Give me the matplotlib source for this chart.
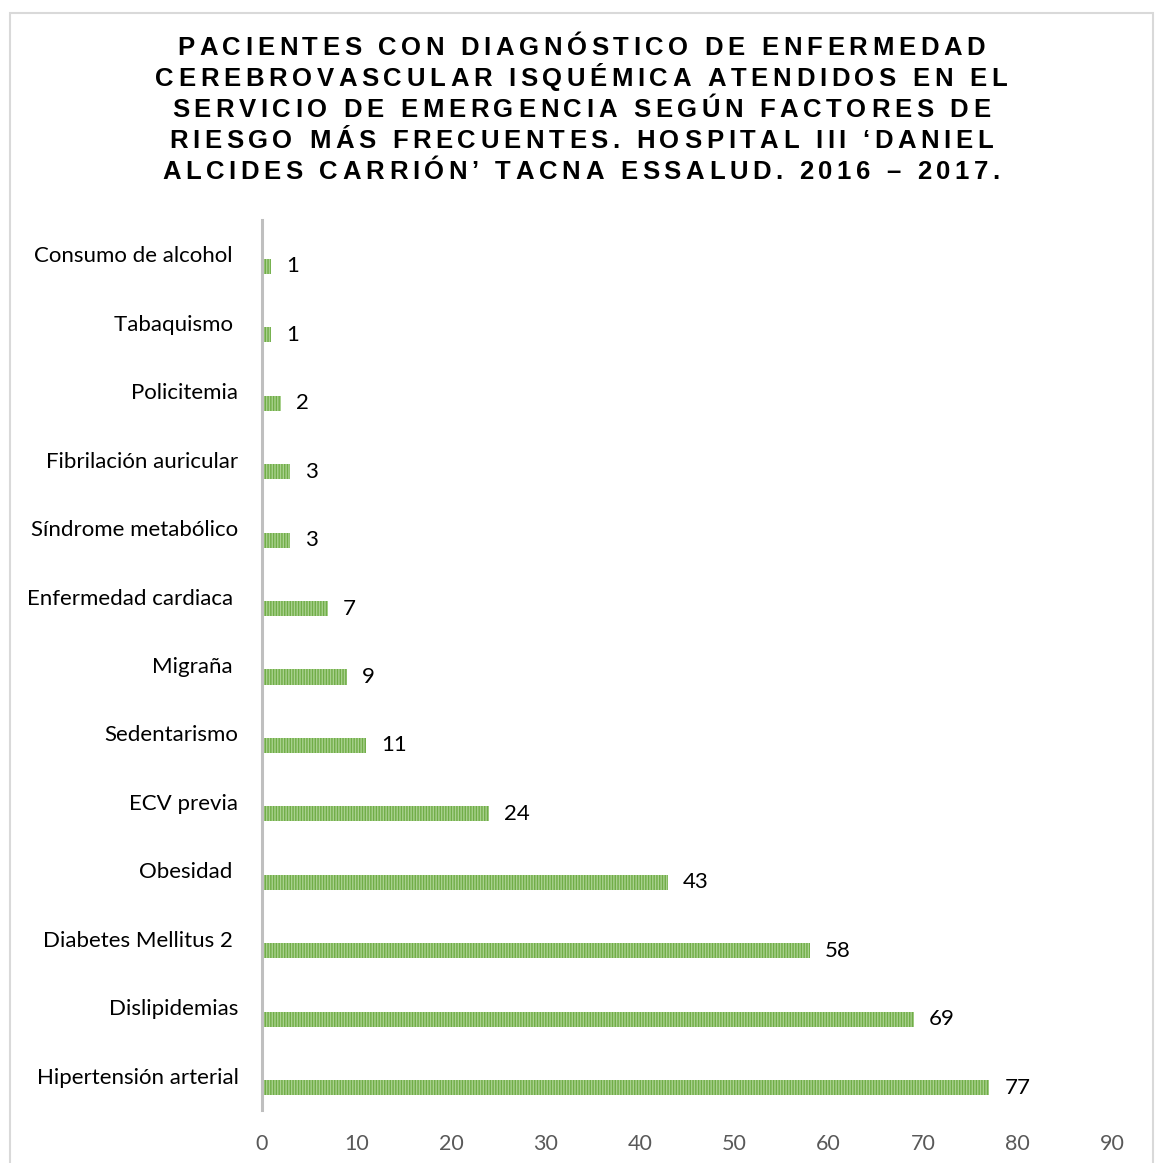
import matplotlib.pyplot as plt
from matplotlib.patches import Rectangle
from matplotlib.font_manager import FontProperties

# datos (de arriba hacia abajo)
factores = ['Consumo de alcohol ', 'Tabaquismo ', 'Policitemia', 'Fibrilación auricular',
            'Síndrome metabólico', 'Enfermedad cardiaca ', 'Migraña ', 'Sedentarismo',
            'ECV previa', 'Obesidad ', 'Diabetes Mellitus 2 ', 'Dislipidemias',
            'Hipertensión arterial']
pacientes = [1, 1, 2, 3, 3, 7, 9, 11, 24, 43, 58, 69, 77]
x_ticks = [0, 10, 20, 30, 40, 50, 60, 70, 80, 90]

titulo = ['PACIENTES CON DIAGNÓSTICO DE ENFERMEDAD',
          'CEREBROVASCULAR ISQUÉMICA ATENDIDOS EN EL',
          'SERVICIO DE EMERGENCIA SEGÚN FACTORES DE',
          'RIESGO MÁS FRECUENTES. HOSPITAL III ‘DANIEL',
          'ALCIDES CARRIÓN’ TACNA ESSALUD. 2016 – 2017.']

W, H = 1155, 1163
fig = plt.figure(figsize=(W / 100, H / 100), dpi=100)

# marco gris del gráfico
fig.patches.append(Rectangle((10 / W, -0.02), 1143 / W, 1 - 13 / H + 0.02,
                             transform=fig.transFigure, fill=False,
                             edgecolor='#d9d9d9', linewidth=1.5))

ax = fig.add_axes([262 / W, 1 - 1110 / H, 850 / W, 890 / H])
y = list(range(len(factores)))
# las barras van algo por debajo del centro de cada categoría (como en Excel)
ax.barh([v + 0.175 for v in y], pacientes, height=0.22, color='#a9d18e',
        edgecolor='#70ad47', linewidth=0, hatch='||||||')
ax.set_ylim(len(factores) - 0.5, -0.5)
ax.set_xlim(0, 90)

fuente = 'Lato'
ax.set_yticks(y, factores, fontsize=16, family=fuente, color='#000000')
ax.set_xticks(x_ticks, [str(t) for t in x_ticks], fontsize=15.5, family=fuente, color='#595959')
ax.tick_params(length=0)
ax.tick_params(axis='y', pad=17)
ax.tick_params(axis='x', pad=17)

for s in ['top', 'right', 'bottom']:
    ax.spines[s].set_visible(False)
ax.spines['left'].set_color('#bfbfbf')
ax.spines['left'].set_linewidth(2.2)

for yi, v in zip(y, pacientes):
    ax.text(v + 1.6, yi + 0.175, str(v), va='center', ha='left', fontsize=16,
            family=fuente, color='#000000')

# título con espaciado entre letras
rend = fig.canvas.get_renderer()
prop = FontProperties(family='Liberation Sans', weight='bold', size=18.5)


def ancho(s):
    return rend.get_text_width_height_descent(s, prop, ismath=False)[0]


base = ancho('HH')


def avances(linea):
    return [ancho('H' + c + 'H') - base for c in linea]


a0 = avances(titulo[0])
espacio = (808 - sum(a0)) / (len(titulo[0]) - 1)
lineas_y = [48, 79, 110, 141, 172]
for linea, yy in zip(titulo, lineas_y):
    anchos = avances(linea)
    total = sum(anchos) + espacio * (len(linea) - 1)
    x = 581 - total / 2
    for c, w in zip(linea, anchos):
        fig.text(x / W, 1 - yy / H, c, fontproperties=prop, ha='left', va='center',
                 color='#000000')
        x += w + espacio

plt.savefig('out.png', dpi=100)
